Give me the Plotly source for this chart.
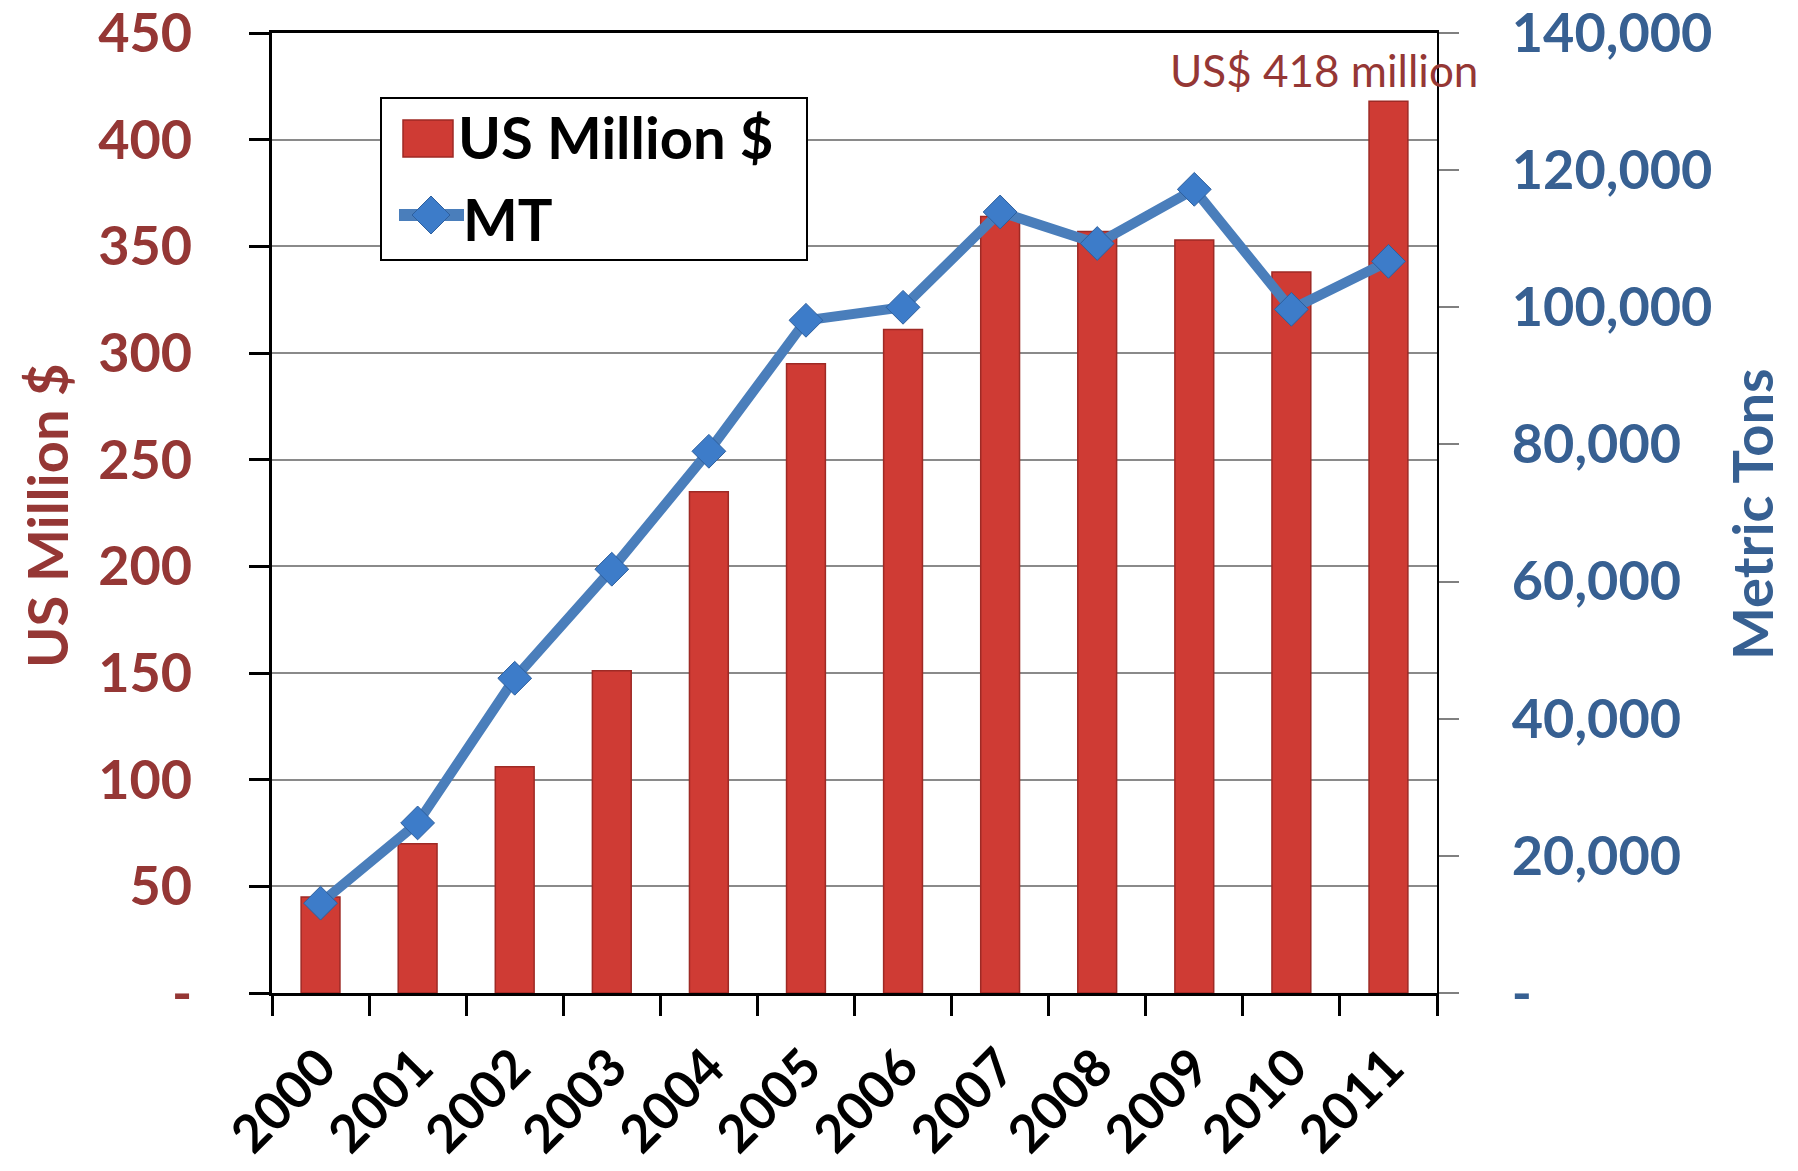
import plotly.graph_objects as go

# Data
years = ["2000", "2001", "2002", "2003", "2004", "2005",
         "2006", "2007", "2008", "2009", "2010", "2011"]
usd_million = [45, 70, 106, 151, 235, 295, 311, 364, 357, 353, 338, 418]
metric_tons = [13100, 24800, 45900, 61800, 79000, 98100,
               100000, 113900, 109300, 117200, 99700, 106700]

left_ticks = list(range(0, 451, 50))
right_ticks = list(range(0, 140001, 20000))

RED = "#cf3b34"
RED_DARK = "#9e2a25"
RED_TEXT = "#953735"
BLUE = "#4a7ebb"
BLUE_MARK = "#3d7cc9"
BLUE_TEXT = "#376092"
FONT = "Lato"

# the page body adds an 8px margin, so the figure is a bit smaller than the window
W, H = 1782, 1155
L, R, T, B = 264, 353, 25, 170
PW, PH = W - L - R, H - T - B


def px(x):
    # window pixel -> paper fraction
    return (x - 8 - L) / PW


def py(y):
    return (H - B - (y - 8)) / PH


fig = go.Figure()

fig.add_trace(
    go.Bar(
        x=years,
        y=usd_million,
        name="US Million $",
        width=0.4,
        marker=dict(color=RED, line=dict(color=RED_DARK, width=1.5)),
        showlegend=False,
    )
)
fig.add_trace(
    go.Scatter(
        x=years,
        y=metric_tons,
        name="MT",
        yaxis="y2",
        mode="lines+markers",
        line=dict(color=BLUE, width=10),
        marker=dict(symbol="diamond", size=26, color=BLUE_MARK,
                    line=dict(color="#2d5f9e", width=1)),
        showlegend=False,
    )
)

fig.update_layout(
    width=W,
    height=H,
    margin=dict(l=L, r=R, t=T, b=B),
    paper_bgcolor="white",
    plot_bgcolor="white",
    font=dict(family=FONT),
    xaxis=dict(
        type="category",
        range=[-0.5, len(years) - 0.5],
        automargin=False,
        tickson="boundaries",
        ticks="outside",
        ticklen=20,
        tickwidth=3,
        tickcolor="black",
        showline=True,
        linecolor="black",
        linewidth=3,
        mirror=True,
        showgrid=False,
        tickangle=-45,
        ticklabelstandoff=20,
        tickfont=dict(family=FONT, size=52, color="black", weight="bold"),
    ),
    yaxis=dict(
        range=[0, 450],
        automargin=False,
        tickvals=left_ticks,
        ticktext=["-" if v == 0 else str(v) for v in left_ticks],
        ticks="outside",
        ticklen=20,
        tickwidth=3,
        tickcolor="black",
        showline=True,
        linecolor="black",
        linewidth=3,
        showgrid=True,
        gridcolor="#8a8a8a",
        gridwidth=2,
        zeroline=False,
        ticklabelstandoff=46,
        ticklabeloverflow="allow",
        tickfont=dict(family=FONT, size=54, color=RED_TEXT, weight="bold"),
    ),
    yaxis2=dict(
        range=[0, 140000],
        automargin=False,
        overlaying="y",
        side="right",
        tickvals=right_ticks,
        ticktext=["-" if v == 0 else f"{v:,}" for v in right_ticks],
        ticks="outside",
        ticklen=20,
        tickwidth=1.5,
        tickcolor="#808080",
        showline=True,
        linecolor="black",
        linewidth=2,
        showgrid=False,
        zeroline=False,
        ticklabelstandoff=42,
        ticklabeloverflow="allow",
        tickfont=dict(family=FONT, size=54, color=BLUE_TEXT, weight="bold"),
    ),
)

# axis titles
fig.add_annotation(
    text="US Million $", textangle=-90, showarrow=False,
    xref="paper", yref="paper", x=px(46), y=py(516),
    xanchor="center", yanchor="middle",
    font=dict(family=FONT, size=56, color=RED_TEXT, weight="bold"),
)
fig.add_annotation(
    text="Metric Tons", textangle=-90, showarrow=False,
    xref="paper", yref="paper", x=px(1752), y=py(514),
    xanchor="center", yanchor="middle",
    font=dict(family=FONT, size=56, color=BLUE_TEXT, weight="bold"),
)

# callout on the last bar
fig.add_annotation(
    text=f"US$ {usd_million[-1]} million", showarrow=False,
    x=len(years) - 1, y=usd_million[-1], xanchor="center", yanchor="middle",
    xshift=-64, yshift=31,
    font=dict(family=FONT, size=44, color=RED_TEXT),
)

# legend box drawn by hand so the symbols match the big text
fig.add_shape(type="rect", xref="paper", yref="paper",
              x0=px(381), x1=px(807), y0=py(260), y1=py(98),
              line=dict(color="black", width=2), fillcolor="white")
fig.add_shape(type="rect", xref="paper", yref="paper",
              x0=px(403), x1=px(453), y0=py(157), y1=py(120),
              line=dict(color=RED_DARK, width=1.5), fillcolor=RED)
fig.add_shape(type="line", xref="paper", yref="paper",
              x0=px(399), x1=px(464), y0=py(215), y1=py(215),
              line=dict(color=BLUE, width=12))
cx, cy, dx, dy = px(431), py(215), 19 / PW, 19 / PH
fig.add_shape(type="path", xref="paper", yref="paper",
              path=f"M{cx},{cy + dy} L{cx + dx},{cy} L{cx},{cy - dy} L{cx - dx},{cy} Z",
              line=dict(color="#2d5f9e", width=1), fillcolor=BLUE_MARK)
fig.add_annotation(
    text="US Million $", showarrow=False, xref="paper", yref="paper",
    x=px(456), y=py(136), xanchor="left", yanchor="middle",
    font=dict(family=FONT, size=58, color="black", weight="bold"),
)
fig.add_annotation(
    text="MT", showarrow=False, xref="paper", yref="paper",
    x=px(461), y=py(218), xanchor="left", yanchor="middle",
    font=dict(family=FONT, size=58, color="black", weight="bold"),
)

fig.write_html("out.html")
